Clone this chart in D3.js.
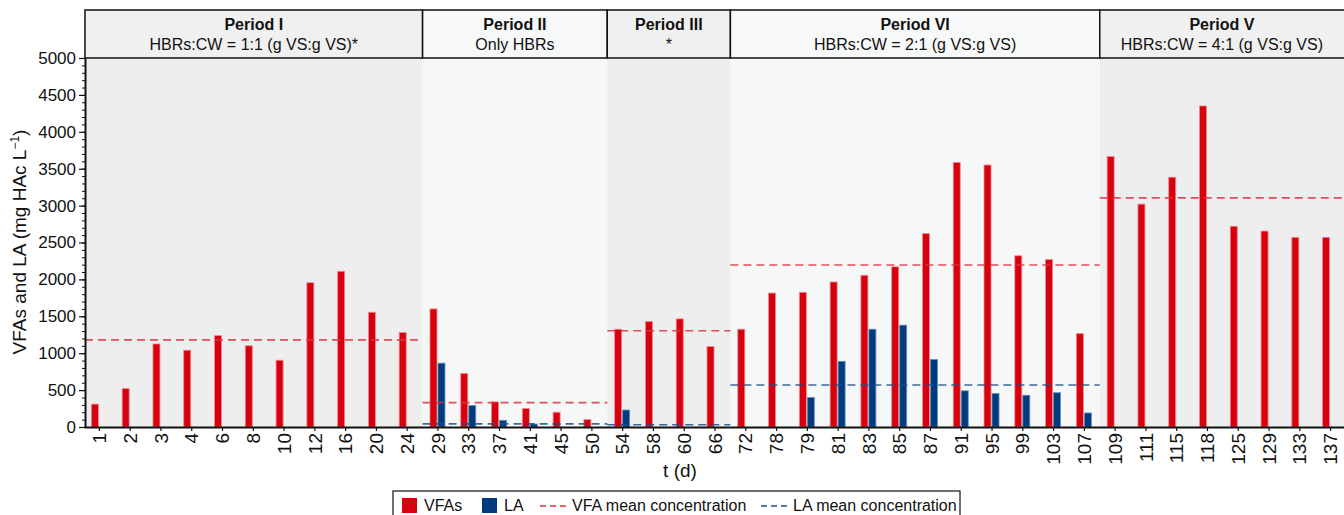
<!DOCTYPE html>
<html>
<head>
<meta charset="utf-8">
<script src="https://cdn.jsdelivr.net/npm/d3@7"></script>
<style>
  body { margin: 0; background: #fff; }
  svg { display: block; font-family: "Liberation Sans", Arial, sans-serif; }
</style>
</head>
<body>
<div id="wrapper"></div>
<script>
// sampling days (x categories)
const days = ["1","2","3","4","6","8","10","12","16","20","24",
  "29","33","37","41","45","50",
  "54","58","60","66",
  "72","78","79","81","83","85","87","91","95","99","103","107",
  "109","111","115","118","125","129","133","137"];

// VFA and LA concentrations (mg HAc/L)
const vfa = [310,520,1125,1040,1240,1100,905,1955,2110,1555,1280,
  1600,725,340,250,200,100,
  1325,1430,1465,1090,
  1325,1815,1825,1965,2055,2170,2620,3585,3550,2320,2270,1265,
  3665,3020,3385,4350,2720,2655,2570,2570];
const la = [0,0,0,0,0,0,0,0,0,0,0,
  865,290,90,40,0,0,
  230,0,0,0,
  0,0,400,890,1325,1380,915,490,455,430,465,190,
  0,0,0,0,0,0,0,0];

// periods
const periodNames = ["Period I","Period II","Period III","Period VI","Period V"];
const periodNotes = ["HBRs:CW = 1:1 (g VS:g VS)*","Only HBRs","*","HBRs:CW = 2:1 (g VS:g VS)","HBRs:CW = 4:1 (g VS:g VS)"];
const periodFirst = ["1","29","54","72","109"];
const periodLast = ["24","50","66","107","137"];
const vfaMean = [1180,330,1305,2195,3105];
const laMean = [null,42,30,570,null];

const yTicks = [0,500,1000,1500,2000,2500,3000,3500,4000,4500,5000];

const width = 1344;
const height = 515;
const plot = { left: 85, right: 1346, top: 58, bottom: 427, headTop: 10 };

const red = "#d7000f";
const blue = "#003c7d";
const shadeA = "#eeeeee";
const shadeB = "#f6f7f7";

const svg = d3.select("#wrapper").append("svg")
  .attr("width", width).attr("height", height);

const xScale = d3.scaleBand().domain(days).range([plot.left - 1, plot.right])
  .paddingInner(0).paddingOuter(0);
const yScale = d3.scaleLinear().domain([0, 5000]).range([plot.bottom, plot.top]);
const sub = d3.scaleBand().domain(["vfa","la"]).range([-8, 8]);

const step = xScale.step();
const pStart = (i) => i === 0 ? plot.left : xScale(periodFirst[i]);
const pEnd = (i) => i === periodLast.length - 1 ? plot.right : xScale(periodLast[i]) + step;

// period backgrounds + header cells
const periods = d3.range(periodNames.length);
svg.append("g").selectAll("rect").data(periods).join("rect")
  .attr("x", (i) => pStart(i))
  .attr("y", plot.top)
  .attr("width", (i) => pEnd(i) - pStart(i))
  .attr("height", plot.bottom - plot.top)
  .attr("fill", (i) => i % 2 === 0 ? shadeA : shadeB);

const head = svg.append("g");
head.selectAll("rect").data(periods).join("rect")
  .attr("x", (i) => pStart(i))
  .attr("y", plot.headTop)
  .attr("width", (i) => pEnd(i) - pStart(i))
  .attr("height", plot.top - plot.headTop)
  .attr("fill", (i) => i % 2 === 0 ? "#f0f0f0" : "#f7f8f8")
  .attr("stroke", "#111")
  .attr("stroke-width", 1.5);
head.selectAll(".title").data(periods).join("text")
  .attr("class", "title")
  .attr("x", (i) => (pStart(i) + Math.min(pEnd(i), width)) / 2)
  .attr("y", 30)
  .attr("text-anchor", "middle")
  .attr("font-size", 16).attr("font-weight", "bold").attr("fill", "#111")
  .text((i) => periodNames[i]);
head.selectAll(".note").data(periods).join("text")
  .attr("class", "note")
  .attr("x", (i) => (pStart(i) + Math.min(pEnd(i), width)) / 2)
  .attr("y", 50)
  .attr("text-anchor", "middle")
  .attr("font-size", 16).attr("fill", "#111")
  .text((i) => periodNotes[i]);

// bars
const bars = svg.append("g");
bars.selectAll(".vfa").data(days).join("rect")
  .attr("class", "vfa")
  .attr("x", (d) => xScale(d) + step / 2 + sub("vfa"))
  .attr("y", (d, i) => yScale(vfa[i]))
  .attr("width", sub.bandwidth() - 1)
  .attr("height", (d, i) => yScale(0) - yScale(vfa[i]))
  .attr("fill", red)
  .attr("stroke", "#f08a90").attr("stroke-width", 0.8);
bars.selectAll(".la").data(days.filter((d, i) => la[i] > 0)).join("rect")
  .attr("class", "la")
  .attr("x", (d) => xScale(d) + step / 2 + sub("la"))
  .attr("y", (d) => yScale(la[days.indexOf(d)]))
  .attr("width", sub.bandwidth() - 1)
  .attr("height", (d) => yScale(0) - yScale(la[days.indexOf(d)]))
  .attr("fill", blue)
  .attr("stroke", "#6a8fb8").attr("stroke-width", 0.8);

// mean lines
const means = svg.append("g");
means.selectAll(".vmean").data(periods).join("line")
  .attr("x1", (i) => pStart(i)).attr("x2", (i) => pEnd(i))
  .attr("y1", (i) => yScale(vfaMean[i])).attr("y2", (i) => yScale(vfaMean[i]))
  .attr("stroke", "#e0303c").attr("stroke-opacity", 0.85)
  .attr("stroke-width", 1.6).attr("stroke-dasharray", "8,5");
means.selectAll(".lmean").data(periods.filter((i) => laMean[i] != null)).join("line")
  .attr("x1", (i) => pStart(i)).attr("x2", (i) => pEnd(i))
  .attr("y1", (i) => yScale(laMean[i])).attr("y2", (i) => yScale(laMean[i]))
  .attr("stroke", "#1d4f8a").attr("stroke-opacity", 0.85)
  .attr("stroke-width", 1.6).attr("stroke-dasharray", "8,5");

// axes
const xAxis = svg.append("g")
  .attr("transform", `translate(0, ${plot.bottom})`)
  .call(d3.axisBottom(xScale).tickSize(4).tickSizeOuter(0));
xAxis.select(".domain").attr("stroke", "#111").attr("stroke-width", 2);
xAxis.selectAll(".tick line").attr("stroke", "#111").attr("stroke-width", 1.2);
xAxis.selectAll(".tick text")
  .attr("font-size", 19).attr("fill", "#111").attr("font-family", null)
  .attr("transform", "rotate(-90)")
  .attr("x", -6).attr("y", 0).attr("dy", "0.35em")
  .style("text-anchor", "end");

const yMinor = svg.append("g")
  .attr("transform", `translate(${plot.left}, 0)`)
  .call(d3.axisLeft(yScale).ticks(50).tickSize(3).tickFormat(""));
yMinor.select(".domain").remove();
yMinor.selectAll(".tick line").attr("stroke", "#111");

const yAxis = svg.append("g")
  .attr("transform", `translate(${plot.left}, 0)`)
  .call(d3.axisLeft(yScale).tickValues(yTicks).tickSize(6).tickSizeOuter(0)
    .tickPadding(3).tickFormat(d3.format("d")));
yAxis.select(".domain").attr("stroke", "#111").attr("stroke-width", 2);
yAxis.selectAll(".tick line").attr("stroke", "#111").attr("stroke-width", 1.2);
yAxis.selectAll(".tick text").attr("font-size", 17).attr("fill", "#111").attr("font-family", null);

// axis labels
svg.append("text")
  .attr("transform", "translate(26, 242) rotate(-90)")
  .attr("text-anchor", "middle").attr("font-size", 19).attr("fill", "#111")
  .html('VFAs and LA (mg HAc L<tspan dy="-7" font-size="12">−1</tspan><tspan dy="7">)</tspan>');
svg.append("text")
  .attr("x", 680).attr("y", 477)
  .attr("text-anchor", "middle").attr("font-size", 19).attr("fill", "#111")
  .text("t (d)");

// legend
const legend = svg.append("g");
legend.append("rect")
  .attr("x", 393).attr("y", 491).attr("width", 567).attr("height", 32)
  .attr("fill", "#fff").attr("stroke", "#111").attr("stroke-width", 1.2);
const ly = 505;
const lFont = 16;
legend.append("rect").attr("x", 402).attr("y", ly - 7).attr("width", 15).attr("height", 15).attr("fill", red);
legend.append("text").attr("x", 424).attr("y", ly + 6).attr("font-size", lFont).attr("fill", "#111").text("VFAs");
legend.append("rect").attr("x", 482).attr("y", ly - 7).attr("width", 15).attr("height", 15).attr("fill", blue);
legend.append("text").attr("x", 504).attr("y", ly + 6).attr("font-size", lFont).attr("fill", "#111").text("LA");
legend.append("line").attr("x1", 540).attr("x2", 566).attr("y1", ly + 1).attr("y2", ly + 1)
  .attr("stroke", "#e0303c").attr("stroke-width", 1.6).attr("stroke-dasharray", "6,4");
legend.append("text").attr("x", 572).attr("y", ly + 6).attr("font-size", lFont).attr("fill", "#111").text("VFA mean concentration");
legend.append("line").attr("x1", 761).attr("x2", 787).attr("y1", ly + 1).attr("y2", ly + 1)
  .attr("stroke", "#1d4f8a").attr("stroke-width", 1.6).attr("stroke-dasharray", "6,4");
legend.append("text").attr("x", 793).attr("y", ly + 6).attr("font-size", lFont).attr("fill", "#111").text("LA mean concentration");
</script>
</body>
</html>
